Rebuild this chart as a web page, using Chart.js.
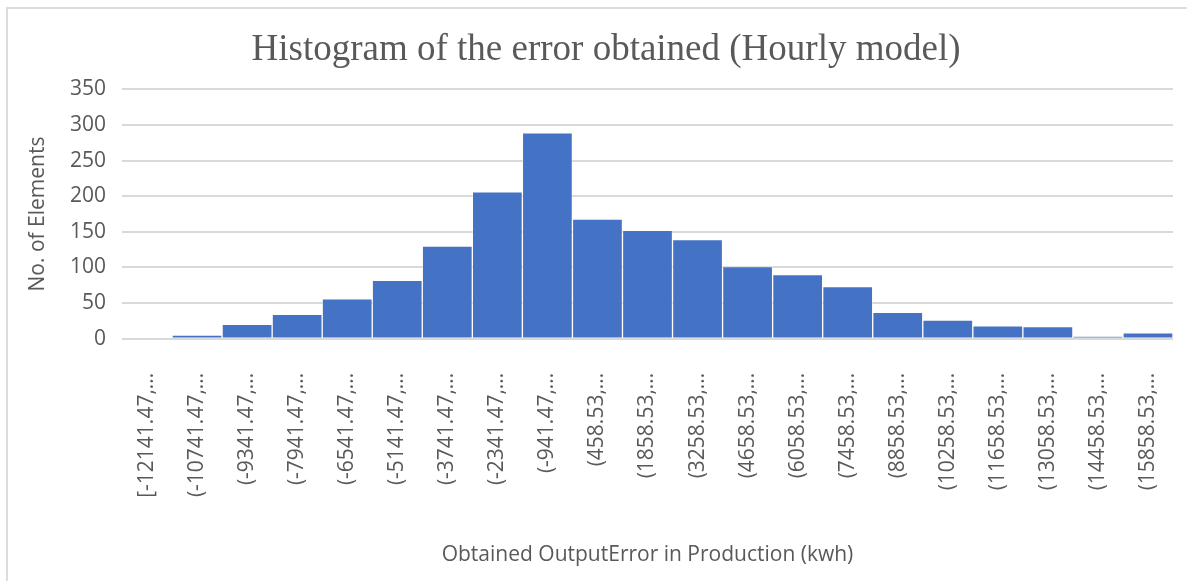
<!DOCTYPE html>
<html>
<head>
<meta charset="utf-8">
<script src="https://cdn.jsdelivr.net/npm/chart.js"></script>
<style>
  html, body { margin: 0; padding: 0; background: #fff; overflow: hidden; }
  #frame {
    position: absolute; left: 6px; top: 7px; width: 1200px; height: 600px;
    border-left: 2px solid #dcdcdc; border-top: 2px solid #dcdcdc;
  }
  #wrap { position: absolute; left: 0; top: 0; width: 1187px; height: 581px; }
</style>
</head>
<body>
<div id="frame"></div>
<div id="wrap"><canvas id="histChart"></canvas></div>
<script>
// Bin labels (Excel truncates them) and counts per bin
const binLabels = [
  '[-12141.47,...', '(-10741.47,...', '(-9341.47,...', '(-7941.47,...',
  '(-6541.47,...', '(-5141.47,...', '(-3741.47,...', '(-2341.47,...',
  '(-941.47,...', '(458.53,...', '(1858.53,...', '(3258.53,...',
  '(4658.53,...', '(6058.53,...', '(7458.53,...', '(8858.53,...',
  '(10258.53,...', '(11658.53,...', '(13058.53,...', '(14458.53,...',
  '(15858.53,...'
];
const binCounts = [0, 5, 20, 34, 56, 82, 130, 206, 289, 168, 152, 139, 101, 90, 73, 37, 26, 18, 17, 3, 8];
const yTicks = [0, 50, 100, 150, 200, 250, 300, 350];

const textGray = '#595959';
const gridGray = '#d9d9d9';
const sans = '"Open Sans", sans-serif';

const ctx = document.getElementById('histChart').getContext('2d');
new Chart(ctx, {
  type: 'bar',
  data: {
    labels: binLabels,
    datasets: [{
      data: binCounts,
      backgroundColor: '#4472c4',
      borderColor: 'rgba(255,255,255,0.35)',
      borderWidth: 1,
      categoryPercentage: 1,
      barPercentage: 1
    }]
  },
  options: {
    responsive: true,
    maintainAspectRatio: false,
    animation: false,
    layout: { padding: { left: 25, right: 0, top: 28, bottom: 13 } },
    plugins: {
      legend: { display: false },
      tooltip: { enabled: false },
      title: {
        display: true,
        text: 'Histogram of the error obtained (Hourly model)',
        color: textGray,
        font: { family: '"Liberation Serif", "DejaVu Serif", serif', size: 37, weight: 'normal' },
        padding: { top: 0, bottom: 17 }
      }
    },
    scales: {
      x: {
        grid: { display: false },
        border: { display: false },
        afterFit: (scale) => { scale.paddingRight = 14; scale.paddingLeft = 0; },
        ticks: {
          color: textGray,
          font: { family: sans, size: 21 },
          minRotation: 90,
          maxRotation: 90,
          autoSkip: false,
          padding: 26
        },
        title: {
          display: true,
          text: 'Obtained OutputError in Production (kwh)',
          color: textGray,
          font: { family: sans, size: 21 },
          padding: { top: 19, bottom: 0 }
        }
      },
      y: {
        min: 0,
        max: 350,
        afterBuildTicks: (scale) => { scale.ticks = yTicks.map(v => ({ value: v })); },
        afterFit: (scale) => { scale.width = 97; },
        grid: { color: gridGray, lineWidth: 2, drawTicks: false },
        border: { display: false },
        ticks: {
          color: textGray,
          font: { family: sans, size: 21 },
          padding: 16
        },
        title: {
          display: true,
          text: 'No. of Elements',
          color: textGray,
          font: { family: sans, size: 21 },
          padding: { top: 0, bottom: 4 }
        }
      }
    }
  }
});
</script>
</body>
</html>
